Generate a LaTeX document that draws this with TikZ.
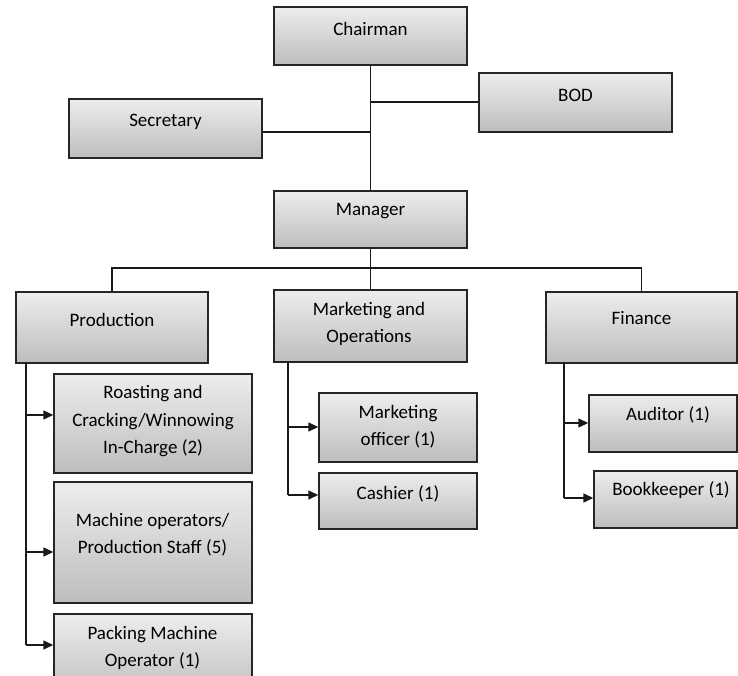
\documentclass[tikz,border=0pt]{standalone}
\usepackage{fontspec}
\setmainfont{Carlito}
\usetikzlibrary{arrows.meta}
\definecolor{boxtop}{HTML}{EDEDED}
\definecolor{boxbot}{HTML}{BDBDBD}
\definecolor{edge}{HTML}{262626}
\tikzset{
  box/.style={draw=edge, line width=1.4pt, rectangle, top color=boxtop, bottom color=boxbot, inner sep=0pt},
  lbl/.style={font=\fontsize{19}{27.5}\selectfont, align=center, inner sep=0pt, text=black},
  conn/.style={draw=black!90, line width=1.4pt},
  arr/.style={conn, -{Triangle[length=10pt,width=9pt]}}
}
\begin{document}
\begin{tikzpicture}[x=1pt,y=-1pt]
\useasboundingbox (0,0) rectangle (738,676);
% boxes
\node[box, minimum width=193pt, minimum height=58pt] (chair) at (370.5,36) {};
\node[box, minimum width=193pt, minimum height=59pt] (bod) at (575.5,102.5) {};
\node[box, minimum width=193pt, minimum height=59pt] (sec) at (165.5,128.5) {};
\node[box, minimum width=193pt, minimum height=57pt] (mgr) at (370.5,219.5) {};
\node[box, minimum width=192pt, minimum height=71pt] (prod) at (112,327.5) {};
\node[box, minimum width=193pt, minimum height=72pt] (mkt) at (370.5,326) {};
\node[box, minimum width=191pt, minimum height=71pt] (fin) at (641.5,327.5) {};
\node[box, minimum width=198pt, minimum height=99pt] (roast) at (153,423.5) {};
\node[box, minimum width=198pt, minimum height=121pt] (mach) at (153,542.5) {};
\node[box, minimum width=198pt, minimum height=86pt] (pack) at (153,657) {};
\node[box, minimum width=158pt, minimum height=69pt] (mo) at (398,427.5) {};
\node[box, minimum width=158pt, minimum height=56pt] (cash) at (398,501) {};
\node[box, minimum width=148pt, minimum height=57pt] (aud) at (663,423.5) {};
\node[box, minimum width=143pt, minimum height=57pt] (book) at (665.5,499.5) {};
% labels
\node[lbl] (chairT) at (370.5,28.5) {Chairman};
\node[lbl] (bodT) at (575.5,95.5) {BOD};
\node[lbl] (secT) at (165.5,121.5) {Secretary};
\node[lbl] (mgrT) at (370.5,211.5) {Manager};
\node[lbl] (prodT) at (112,319.5) {Production};
\node[lbl] (mktT) at (369,324) {Marketing and\\Operations};
\node[lbl] (finT) at (641.5,318.5) {Finance};
\node[lbl] (roastT) at (153,421.5) {Roasting and\\Cracking/Winnowing\\In-Charge (2)};
\node[lbl] (machT) at (152.5,534.5) {Machine operators/\\Production Staff (5)};
\node[lbl] (packT) at (152.5,648) {Packing Machine\\Operator (1)};
\node[lbl] (moT) at (398,426.5) {Marketing\\officer (1)};
\node[lbl] (cashT) at (398,493.5) {Cashier (1)};
\node[lbl] (audT) at (668,414.5) {Auditor (1)};
\node[lbl] (bookT) at (671,490.5) {Bookkeeper (1)};
% top connectors
\coordinate (jb) at (chair.south |- 0,102);
\coordinate (js) at (chair.south |- 0,132);
\coordinate (bus) at (mgr.south |- 0,268);
\draw[conn] (chair.south) -- (mgr.north);
\draw[conn] (jb) -- (jb -| bod.west);
\draw[conn] (js) -- (js -| sec.east);
\draw[conn] (mgr.south) -- (bus);
\draw[conn] (prod.north) -- (prod.north |- bus) -- (fin.north |- bus) -- (fin.north);
\draw[conn] (bus) -- (mkt.north);
% production branch
\coordinate (ps) at (26,363);
\coordinate (p1) at (26,415);
\coordinate (p2) at (26,552);
\coordinate (p3) at (26,645);
\draw[conn] (ps) -- (p3);
\draw[arr] (p1) -- (p1 -| roast.west);
\draw[arr] (p2) -- (p2 -| mach.west);
\draw[arr] (p3) -- (p3 -| pack.west);
% marketing branch
\coordinate (ms) at (288,362);
\coordinate (m1) at (288,427);
\coordinate (m2) at (288,495);
\draw[conn] (ms) -- (m2);
\draw[arr] (m1) -- (m1 -| mo.west);
\draw[arr] (m2) -- (m2 -| cash.west);
% finance branch
\coordinate (fs) at (564,363);
\coordinate (f1) at (564,423);
\coordinate (f2) at (564,498);
\draw[conn] (fs) -- (f2);
\draw[arr] (f1) -- (f1 -| aud.west);
\draw[arr] (f2) -- (f2 -| book.west);
\end{tikzpicture}
\end{document}
